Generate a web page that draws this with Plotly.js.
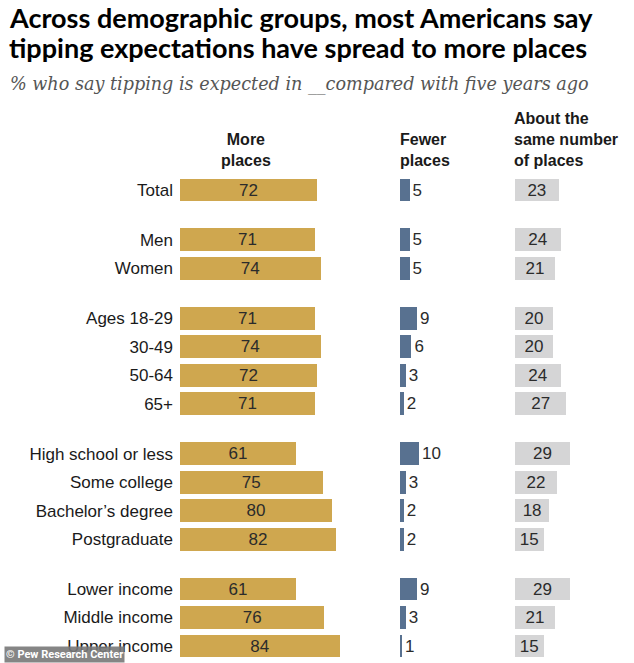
<!DOCTYPE html>
<html>
<head>
<meta charset="utf-8">
<script src="https://cdn.plot.ly/plotly-3.0.1.min.js"></script>
<style>html,body{margin:0;padding:0;background:#fff;}#chart{width:634px;height:663px;}</style>
</head>
<body>
<div id="chart"></div>
<script>
const categories = ["Total", "Men", "Women", "Ages 18-29", "30-49", "50-64", "65+",
  "High school or less", "Some college", "Bachelor\u2019s degree", "Postgraduate",
  "Lower income", "Middle income", "Upper income"];
const groups = [0, 1, 1, 2, 2, 2, 2, 3, 3, 3, 3, 4, 4, 4];
const morePlaces = [72, 71, 74, 71, 74, 72, 71, 61, 75, 80, 82, 61, 76, 84];
const fewerPlaces = [5, 5, 5, 9, 6, 3, 2, 10, 3, 2, 2, 9, 3, 1];
const samePlaces = [23, 24, 21, 20, 20, 24, 27, 29, 22, 18, 15, 29, 21, 15];
const headers = ["More<br>places", "Fewer<br>places", "About the<br>same number<br>of places"];
const titleLines = ["Across demographic groups, most Americans say", "tipping expectations have spread to more places"];
const subtitle = "% who say tipping is expected in __compared with five years ago";
const sourceNote = "\u00a9 Pew Research Center";

// layout helpers (pixel geometry)
const W = 634, H = 663;
const pxPerUnit = 1.9;
const rowPitch = 28.5, firstRowY = 190, groupGap = 0.75;
const yPos = categories.map((c, i) => i + groups[i] * groupGap);
const px = x => x / W;
const py = y => 1 - y / H;
const dom = (a, b) => [px(a), px(b)];
const yTop = (0 - firstRowY) / rowPitch;
const yBot = (H - firstRowY) / rowPitch;

const valFont = {family: "Liberation Sans, Arial, sans-serif", size: 17, color: "#2b2b2b"};

const traces = [
  {type: "bar", orientation: "h", x: morePlaces, y: yPos, xaxis: "x", yaxis: "y",
   marker: {color: "#CFA74F"}, width: 0.8,
   text: morePlaces.map(String), textposition: "inside", insidetextanchor: "middle", textangle: 0,
   textfont: valFont, constraintext: "none", hoverinfo: "skip"},
  {type: "bar", orientation: "h", x: fewerPlaces, y: yPos, xaxis: "x2", yaxis: "y2",
   marker: {color: "#587190"}, width: 0.8,
   text: fewerPlaces.map(String), textposition: "outside", textangle: 0,
   textfont: valFont, cliponaxis: false, constraintext: "none", hoverinfo: "skip"},
  {type: "bar", orientation: "h", x: samePlaces, y: yPos, xaxis: "x3", yaxis: "y3",
   marker: {color: "#D5D5D6"}, width: 0.8,
   text: samePlaces.map(String), textposition: "inside", insidetextanchor: "middle", textangle: 0,
   textfont: valFont, constraintext: "none", hoverinfo: "skip"}
];

const hiddenX = {showgrid: false, zeroline: false, showticklabels: false, showline: false, fixedrange: true};
const yBase = {range: [yBot, yTop], domain: [0, 1], showgrid: false, zeroline: false, showline: false, fixedrange: true};

const hdrFont = {family: "Liberation Sans, Arial, sans-serif", size: 16, color: "#1a1a1a"};
const titleFont = {family: "Lato, Liberation Sans, sans-serif", size: 27, color: "#000000"};

const layout = {
  width: W, height: H, autosize: false,
  margin: {l: 0, r: 0, t: 0, b: 0, pad: 0},
  paper_bgcolor: "#ffffff", plot_bgcolor: "#ffffff",
  showlegend: false, bargap: 0,
  xaxis: Object.assign({domain: dom(180, 352), range: [0, 172 / pxPerUnit], anchor: "y"}, hiddenX),
  xaxis2: Object.assign({domain: dom(400, 430), range: [0, 30 / pxPerUnit], anchor: "y2"}, hiddenX),
  xaxis3: Object.assign({domain: dom(515, 580), range: [0, 65 / pxPerUnit], anchor: "y3"}, hiddenX),
  yaxis: Object.assign({anchor: "x", tickmode: "array", tickvals: yPos, ticktext: categories,
    ticks: "", ticklabelstandoff: 6,
    tickfont: {family: "Liberation Sans, Arial, sans-serif", size: 17, color: "#1a1a1a"}}, yBase),
  yaxis2: Object.assign({anchor: "x2", overlaying: "y", showticklabels: false}, yBase),
  yaxis3: Object.assign({anchor: "x3", overlaying: "y", showticklabels: false}, yBase),
  annotations: [
    {text: "<b>" + titleLines[0] + "</b>", xref: "paper", yref: "paper", x: px(7), y: py(17),
     xanchor: "left", yanchor: "middle", showarrow: false, font: titleFont},
    {text: "<b>" + titleLines[1] + "</b>", xref: "paper", yref: "paper", x: px(7), y: py(48),
     xanchor: "left", yanchor: "middle", showarrow: false, font: titleFont},
    {text: "<i>" + subtitle + "</i>",
     xref: "paper", yref: "paper", x: px(8), y: py(84), xanchor: "left", yanchor: "middle",
     showarrow: false, font: {family: "DejaVu Serif, Georgia, serif", size: 17.6, color: "#555555"}},
    {text: "<b>" + headers[0] + "</b>", xref: "paper", yref: "paper", x: px(246), y: py(171),
     xanchor: "center", yanchor: "bottom", align: "center", showarrow: false, font: hdrFont},
    {text: "<b>" + headers[1] + "</b>", xref: "paper", yref: "paper", x: px(398), y: py(171),
     xanchor: "left", yanchor: "bottom", align: "left", showarrow: false, font: hdrFont},
    {text: "<b>" + headers[2] + "</b>", xref: "paper", yref: "paper", x: px(512), y: py(171),
     xanchor: "left", yanchor: "bottom", align: "left", showarrow: false, font: hdrFont},
    {text: "<b>" + sourceNote + "</b>", xref: "paper", yref: "paper", x: px(4), y: 0,
     xanchor: "left", yanchor: "bottom", showarrow: false, bgcolor: "rgba(120,120,120,0.9)",
     borderpad: 1, font: {family: "Roboto, Liberation Sans, sans-serif", size: 11, color: "#ffffff"}}
  ]
};

Plotly.newPlot("chart", traces, layout, {displayModeBar: false, staticPlot: true});
</script>
</body>
</html>
